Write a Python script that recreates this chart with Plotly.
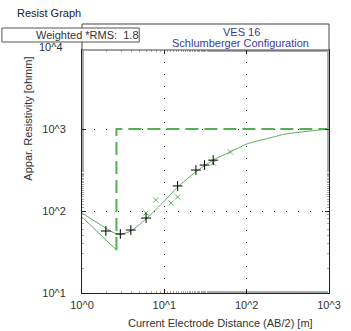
import plotly.graph_objects as go

# ---- data ----
obs_plus_x = [1.95, 2.92, 3.92, 6.0, 14.5, 24.2, 30.8, 39.2]
obs_plus_y = [57, 52.5, 58.6, 82, 202, 316, 363, 417]
obs_x_x = [6.0, 7.86, 12.1, 14.5, 39.2, 63.4]
obs_x_y = [94.6, 136, 125, 148, 385, 525]
calc_x = [1, 2.62, 3.0, 3.9, 6.0, 10, 14.5, 24, 39, 63, 100, 170, 300, 1000]
calc_y = [94.6, 52.4, 52, 57, 80, 132, 196, 299, 417, 525, 656, 755, 870, 1000]
low_x = [1, 2.62]
low_y = [84.5, 33.4]
model_x = [2.62, 2.62, 1000]
model_y = [33.4, 1000, 1000]
xtick_vals = [1, 10, 100, 1000]
xtick_text = ["10^0", "10^1", "10^2", "10^3"]
ytick_vals = [10, 100, 1000]
ytick_text = ["10^1", "10^2", "10^3"]

W, H = 351, 331
L, R, T, B = 82, 341, 50, 293


def px(x):
    return (x - L) / (R - L)


def py(y):
    return (B - y) / (B - T)


GREEN = "rgb(95,170,95)"
DGREEN = "rgb(85,175,85)"
FONT = "Liberation Sans"

fig = go.Figure()
fig.add_trace(go.Scatter(x=model_x, y=model_y, mode="lines",
                         line=dict(color=DGREEN, width=2, dash="13px,6px")))
fig.add_trace(go.Scatter(x=low_x, y=low_y, mode="lines",
                         line=dict(color=GREEN, width=1)))
fig.add_trace(go.Scatter(x=calc_x, y=calc_y, mode="lines",
                         line=dict(color=GREEN, width=1, shape="spline", smoothing=0.6)))
fig.add_trace(go.Scatter(x=obs_x_x, y=obs_x_y, mode="markers",
                         marker=dict(symbol="x-thin", size=5, line=dict(color=GREEN, width=1))))
fig.add_trace(go.Scatter(x=obs_plus_x, y=obs_plus_y, mode="markers",
                         marker=dict(symbol="cross-thin", size=7, line=dict(color="black", width=1))))

axis_common = dict(
    type="log", showline=True, linecolor="#222", linewidth=1, mirror="ticks",
    showgrid=True, gridcolor="#222", griddash="1px,11px", gridwidth=1,
    ticks="inside", ticklen=4, tickcolor="#222",
    tickfont=dict(size=11, color="#333"),
    minor=dict(ticks="inside", ticklen=2, tickcolor="#aaa", showgrid=False),
    zeroline=False, ticklabeloverflow="allow",
)

fig.update_layout(
    width=W, height=H,
    margin=dict(l=L, r=W - R, t=T, b=H - B),
    paper_bgcolor="white", plot_bgcolor="white",
    showlegend=False,
    font=dict(family=FONT, size=11, color="#333"),
    xaxis=dict(range=[0, 3], tickvals=xtick_vals, ticktext=xtick_text,
               ticklabelstandoff=2, **axis_common),
    yaxis=dict(range=[1, 4 - 3 / 82], tickvals=ytick_vals, ticktext=ytick_text,
               ticklabelstandoff=13, **axis_common),
)

# header box
fig.add_shape(type="rect", xref="paper", yref="paper", x0=0, x1=1, y0=1, y1=py(24),
              line=dict(color="#444", width=1), fillcolor="white", layer="above")
fig.add_shape(type="rect", xref="paper", yref="paper", x0=px(-2), x1=px(142), y0=py(42), y1=py(28),
              line=dict(color="#555", width=1), fillcolor="white", layer="above")

ann = [
    dict(text="Resist Graph", x=px(12), y=py(13), xanchor="left", font=dict(size=11, color="#222")),
    dict(text="Weighted *RMS:  1.8", x=px(88), y=py(35), xanchor="center", font=dict(size=11, color="#333")),
    dict(text="VES 16", x=px(249), y=py(32), xanchor="center", font=dict(size=11, color="#3a3a9a")),
    dict(text="Schlumberger Configuration", x=px(248), y=py(43), xanchor="center", font=dict(size=11, color="#3a3a9a")),
    dict(text="10^4", x=px(64), y=py(47), xanchor="right", font=dict(size=11, color="#333")),
    dict(text="Current Electrode Distance (AB/2) [m]", x=px(227), y=py(323), xanchor="center",
         font=dict(size=11, color="#333")),
    dict(text="Appar. Resistivity [ohmm]", x=px(25), y=py(119), xanchor="center", textangle=-90,
         font=dict(size=11, color="#333")),
]
for a in ann:
    a.update(xref="paper", yref="paper", showarrow=False, yanchor="middle")
    fig.add_annotation(**a)

fig.write_html("out.html")
